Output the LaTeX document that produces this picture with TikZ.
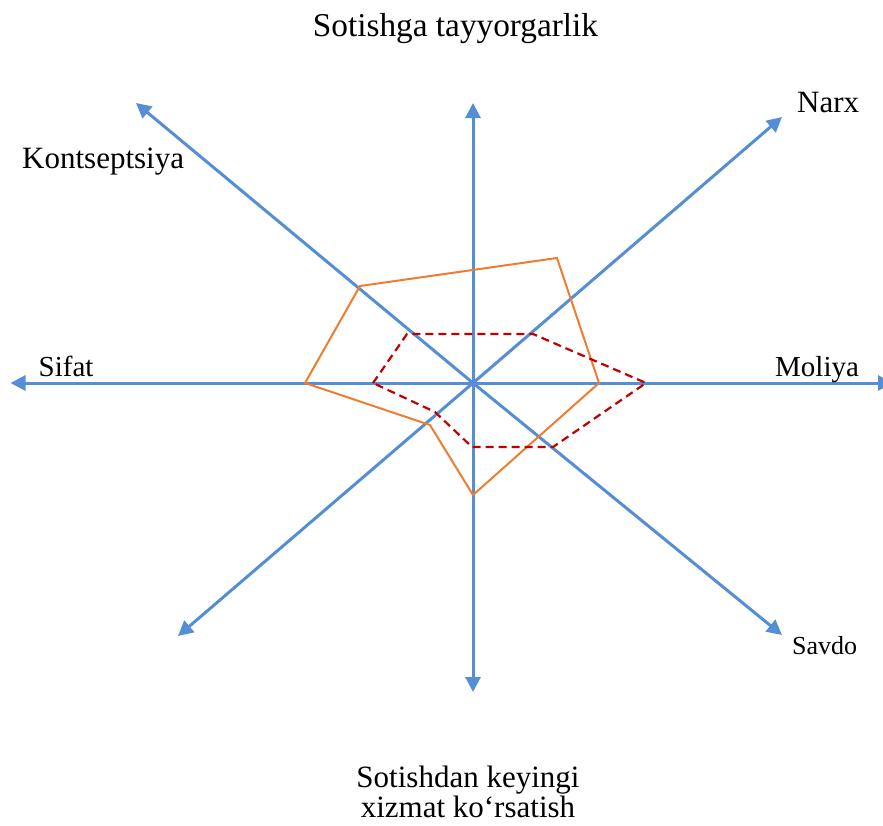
\documentclass[tikz,border=0pt]{standalone}
\usepackage{fontspec}
\setmainfont{Liberation Serif}
\usetikzlibrary{arrows.meta}
\definecolor{axisblue}{HTML}{558ED5}
\definecolor{profileorange}{HTML}{ED7D31}
\definecolor{profilered}{HTML}{C00000}
\tikzset{
  axisline/.style={draw=axisblue, line width=3pt, -{Triangle[length=15pt,width=15pt]}},
  orangeprofile/.style={draw=profileorange, line width=2pt, line join=miter},
  redprofile/.style={draw=profilered, line width=2.2pt, dash pattern=on 8pt off 5pt},
  lbl/.style={inner sep=0pt, font=\fontsize{31}{31}\selectfont},
}
\begin{document}
\begin{tikzpicture}[x=1pt, y=-1pt]
  \useasboundingbox (0,0) rectangle (883,825);

  % centre and axis end points
  \coordinate (O)  at (473,383);
  \coordinate (tW)  at (10.5,383);
  \coordinate (tE)  at (893,383);
  \coordinate (tN)  at (473,103);
  \coordinate (tS)  at (473,692);
  \coordinate (tNW) at (136,103);
  \coordinate (tNE) at (782,117);
  \coordinate (tSW) at (178,636);
  \coordinate (tSE) at (782,635);

  % axes
  \foreach \t in {tW,tE,tN,tS,tNW,tNE,tSW,tSE}
    \draw[axisline] (O) -- (\t);

  % solid profile
  \coordinate (a1) at (305,383);
  \coordinate (a2) at (360,286);
  \coordinate (a3) at (557,258);
  \coordinate (a4) at (599,383);
  \coordinate (a5) at (473,495);
  \coordinate (a6) at (430,425);
  \draw[orangeprofile] (a1) -- (a2) -- (a3) -- (a4) -- (a5) -- (a6) -- cycle;

  % dashed profile
  \coordinate (b1) at (373,383);
  \coordinate (b2) at (407,334);
  \coordinate (b3) at (533,334);
  \coordinate (b4) at (646,383);
  \coordinate (b5) at (553,447);
  \coordinate (b6) at (472,447);
  \coordinate (b7) at (435,412);
  \draw[redprofile] (b1) -- (b2) -- (b3) -- (b4) -- (b5) -- (b6) -- (b7) -- cycle;

  % axis labels
  \node[lbl, anchor=base, font=\fontsize{33.3}{33.3}\selectfont] (top) at (455.5,36.5) {Sotishga tayyorgarlik};
  \node[lbl, anchor=base west] (narx) at (797,112) {Narx};
  \node[lbl, anchor=base west] (kons) at (22,168.5) {Kontseptsiya};
  \node[lbl, anchor=base west, font=\fontsize{29}{29}\selectfont] (sifat) at (38.5,376.5) {Sifat};
  \node[lbl, anchor=base west, font=\fontsize{29}{29}\selectfont] (moliya) at (775,376) {Moliya};
  \node[lbl, anchor=base west, font=\fontsize{26}{26}\selectfont] (savdo) at (792,654) {Savdo};
  \node[lbl, anchor=base, align=center] (bottom) at (468,817) {Sotishdan keyingi\\[-1pt]xizmat ko‘rsatish};
\end{tikzpicture}
\end{document}
